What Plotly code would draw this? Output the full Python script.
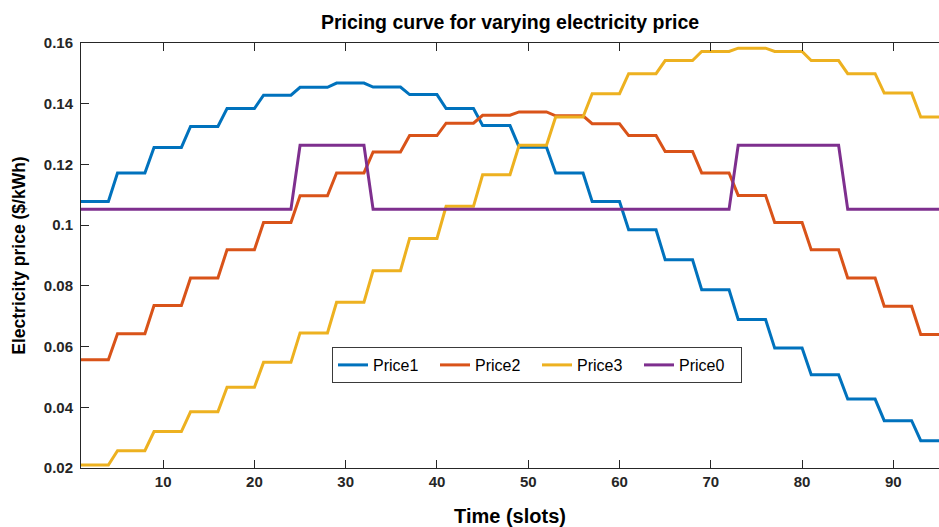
import numpy as np
import plotly.graph_objects as go

# hourly price levels (24 hours), each hour = 4 slots of 15 min
price1_hourly = [0.1078, 0.1172, 0.1256, 0.1325, 0.1384, 0.1428, 0.1454, 0.1468,
                 0.1455, 0.1430, 0.1384, 0.1328, 0.1257, 0.1172, 0.1078, 0.0985,
                 0.0886, 0.0787, 0.0689, 0.0595, 0.0507, 0.0427, 0.0356, 0.0290]
price2_hourly = [0.0557, 0.0642, 0.0735, 0.0826, 0.0919, 0.1009, 0.1097, 0.1172,
                 0.1241, 0.1295, 0.1336, 0.1362, 0.1373, 0.1360, 0.1334, 0.1295,
                 0.1243, 0.1172, 0.1098, 0.1009, 0.0919, 0.0826, 0.0733, 0.0640]
price3_hourly = [0.0210, 0.0257, 0.0320, 0.0385, 0.0466, 0.0548, 0.0645, 0.0746,
                 0.0850, 0.0956, 0.1062, 0.1166, 0.1263, 0.1356, 0.1433, 0.1499,
                 0.1542, 0.1572, 0.1583, 0.1572, 0.1542, 0.1499, 0.1435, 0.1356]
price0_hourly = [0.1052, 0.1052, 0.1052, 0.1052, 0.1052, 0.1052, 0.1263, 0.1263,
                 0.1052, 0.1052, 0.1052, 0.1052, 0.1052, 0.1052, 0.1052, 0.1052,
                 0.1052, 0.1052, 0.1263, 0.1263, 0.1263, 0.1052, 0.1052, 0.1052]
slots_per_hour = 4

series_names = ["Price1", "Price2", "Price3", "Price0"]
series_hourly = [price1_hourly, price2_hourly, price3_hourly, price0_hourly]
colors = ["#0072BD", "#D95319", "#EDB120", "#7E2F8E"]

x_ticks = [10, 20, 30, 40, 50, 60, 70, 80, 90]
y_ticks = [0.02, 0.04, 0.06, 0.08, 0.10, 0.12, 0.14, 0.16]
y_tick_text = ["0.02", "0.04", "0.06", "0.08", "0.1", "0.12", "0.14", "0.16"]

fig = go.Figure()
for name, hourly, col in zip(series_names, series_hourly, colors):
    y = np.repeat(hourly, slots_per_hour)
    x = np.arange(1, len(y) + 1)
    fig.add_trace(go.Scatter(x=x, y=y, mode="lines", name=name,
                             line=dict(color=col, width=3)))

axcol = "#262626"
font_fam = "Liberation Sans, Arial, sans-serif"

W, H = 939, 527
L, R, T, B = 81, 0, 43, 59
PW, PH = W - L - R, H - T - B

fig.update_layout(
    width=W, height=H,
    margin=dict(l=L, r=R, t=T, b=B, autoexpand=False),
    paper_bgcolor="white", plot_bgcolor="white",
    font=dict(family=font_fam, color=axcol),
    title=dict(text="<b>Pricing curve for varying electricity price</b>",
               x=0.5, xref="paper", xanchor="center",
               y=1 - 22 / H, yref="container", yanchor="middle",
               font=dict(size=19.5, color="#000000")),
    showlegend=True,
    legend=dict(orientation="h", x=(537 - L) / PW, xanchor="center",
                y=(468 - 365) / PH, yanchor="middle",
                bordercolor="#3a3a3a", borderwidth=1, bgcolor="white",
                font=dict(size=16, color="#000000"),
                entrywidth=57, entrywidthmode="pixels",
                tracegroupgap=0),
    xaxis=dict(range=[1, 95], tickvals=x_ticks, ticks="inside", ticklen=8,
               tickcolor=axcol, showline=True, linecolor=axcol, linewidth=1,
               mirror="ticks", showgrid=False, zeroline=False, automargin=False,
               tickfont=dict(size=15, color=axcol, weight="bold"),
               title=dict(text="<b>Time (slots)</b>", standoff=19,
                          font=dict(size=20, color="#000000"))),
    yaxis=dict(range=[0.02, 0.16], tickvals=y_ticks, ticktext=y_tick_text,
               ticks="inside", ticklen=8, tickcolor=axcol, showline=True,
               linecolor=axcol, linewidth=1, mirror=False, showgrid=False,
               zeroline=False, ticklabelstandoff=4, automargin=False,
               tickfont=dict(size=15, color=axcol, weight="bold"),
               title=dict(text="<b>Electricity price ($/kWh)</b>", standoff=13,
                          font=dict(size=17.5, color="#000000"))),
)

fig.write_html(
    "out.html",
    config={"displayModeBar": False},
    post_script="document.body.style.margin='0px';"
                "document.body.style.overflow='hidden';",
)
